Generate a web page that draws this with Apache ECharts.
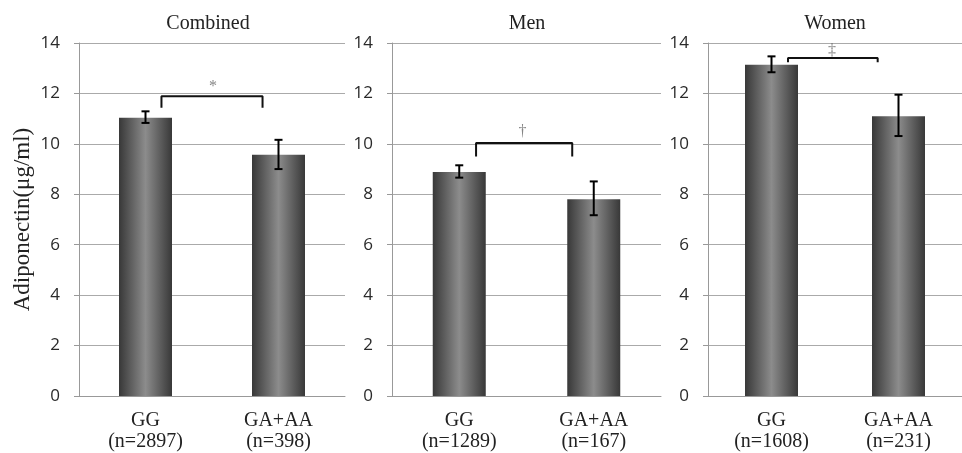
<!DOCTYPE html>
<html>
<head>
<meta charset="utf-8">
<script src="https://cdn.jsdelivr.net/npm/echarts@6/dist/echarts.min.js"></script>
<style>html,body{margin:0;padding:0;background:#fff;}#c{width:962px;height:453px;}</style>
</head>
<body>
<div id="c"></div>
<script>
// ---- data ----
var panelTitles = ['Combined', 'Men', 'Women'];
var catCombined = ['GG\n(n=2897)', 'GA+AA\n(n=398)'];
var catMen = ['GG\n(n=1289)', 'GA+AA\n(n=167)'];
var catWomen = ['GG\n(n=1608)', 'GA+AA\n(n=231)'];
var meanCombined = [11.04, 9.57];
var meanMen = [8.88, 7.80];
var meanWomen = [13.14, 11.09];
var errLowCombined = [10.83, 9.00];
var errHighCombined = [11.29, 10.16];
var errLowMen = [8.66, 7.17];
var errHighMen = [9.15, 8.51];
var errLowWomen = [12.84, 10.31];
var errHighWomen = [13.47, 11.95];
// bracket: [xLeft, xRight, yTop, yDrop]
var bracketCombined = [0.12, 0.88, 11.89, 11.43];
var bracketMen = [0.125, 0.84, 10.03, 9.50];
var bracketWomen = [0.13, 0.836, 13.41, 13.24];
// significance mark: [x, y, text]
var markCombined = [0.507, 12.28, '*'];
var markMen = [0.47, 10.47, '\u2020'];
var markWomen = [0.477, 13.70, '\u2021'];
var yTicks = [0, 2, 4, 6, 8, 10, 12, 14];

var cats = [catCombined, catMen, catWomen];
var means = [meanCombined, meanMen, meanWomen];
var lows = [errLowCombined, errLowMen, errLowWomen];
var highs = [errHighCombined, errHighMen, errHighWomen];
var brackets = [bracketCombined, bracketMen, bracketWomen];
var marks = [markCombined, markMen, markWomen];

var grids = [
  {left: 79, top: 43, width: 266, bottom: 57},
  {left: 392, top: 43, width: 269, bottom: 57},
  {left: 708, top: 43, width: 266, bottom: 57}
];
var titleX = [203, 522, 830];

var chart = echarts.init(document.getElementById('c'));
var serif = '"Liberation Serif", "DejaVu Serif", serif';
var xAxes = [], yAxes = [], series = [], titles = [];

for (var i = 0; i < 3; i++) {
  titles.push({
    text: panelTitles[i], left: titleX[i], top: 9, textAlign: 'center',
    textStyle: {fontFamily: serif, fontSize: 20, fontWeight: 'normal', color: '#222'}
  });
  xAxes.push({
    type: 'category', gridIndex: i, data: cats[i],
    axisLine: {lineStyle: {color: '#999', width: 1}},
    axisTick: {length: 5, lineStyle: {color: '#999'}},
    axisLabel: {fontFamily: serif, fontSize: 20, color: '#222', lineHeight: 21, margin: 14}
  });
  yAxes.push({
    type: 'value', gridIndex: i, min: yTicks[0], max: yTicks[yTicks.length - 1], interval: 2,
    name: i === 0 ? 'Adiponectin(\u03bcg/ml)' : '',
    nameLocation: 'middle', nameGap: 45, nameRotate: 90,
    nameTextStyle: {fontFamily: serif, fontSize: 23, color: '#222'},
    axisLine: {show: true, onZero: false, lineStyle: {color: '#999', width: 1}},
    axisTick: {show: true, length: 5, lineStyle: {color: '#999'}},
    axisLabel: {fontFamily: '"Open Sans", sans-serif', fontSize: 17, color: '#2a2a2a', margin: 19},
    splitLine: {lineStyle: {color: '#aaa', width: 1}}
  });
}
for (var i = 0; i < 3; i++) {
  xAxes.push({type: 'value', gridIndex: i, min: -0.5, max: 1.5, show: false,
    axisLine: {onZero: false}});
}

var barGrad = new echarts.graphic.LinearGradient(0, 0, 1, 0, [
  {offset: 0, color: '#383838'},
  {offset: 0.5, color: '#8c8c8c'},
  {offset: 1, color: '#383838'}
]);

for (var i = 0; i < 3; i++) {
  series.push({
    type: 'bar', xAxisIndex: i, yAxisIndex: i, data: means[i], barWidth: 53,
    itemStyle: {color: barGrad}, silent: true, z: 2
  });
  var ed = [];
  for (var k = 0; k < 2; k++) ed.push([k, lows[i][k], highs[i][k]]);
  series.push({
    type: 'custom', xAxisIndex: i, yAxisIndex: i, data: ed, z: 5, silent: true,
    renderItem: function (params, api) {
      var x = api.value(0);
      var lo = api.coord([x, api.value(1)]);
      var hi = api.coord([x, api.value(2)]);
      var w = 4;
      var st = {stroke: '#000', lineWidth: 2};
      return {type: 'group', children: [
        {type: 'line', shape: {x1: lo[0], y1: lo[1], x2: hi[0], y2: hi[1]}, style: st},
        {type: 'line', shape: {x1: lo[0] - w, y1: lo[1], x2: lo[0] + w, y2: lo[1]}, style: st},
        {type: 'line', shape: {x1: hi[0] - w, y1: hi[1], x2: hi[0] + w, y2: hi[1]}, style: st}
      ]};
    }
  });
  var b = brackets[i];
  series.push({
    type: 'line', xAxisIndex: 3 + i, yAxisIndex: i, silent: true, z: 6,
    data: [[b[0], b[3]], [b[0], b[2]], [b[1], b[2]], [b[1], b[3]]],
    showSymbol: false, symbol: 'none', lineStyle: {color: '#111', width: 2}
  });
  var m = marks[i];
  series.push({
    type: 'scatter', xAxisIndex: 3 + i, yAxisIndex: i, silent: true, z: 6,
    data: [[m[0], m[1]]], symbolSize: 0,
    label: {show: true, position: 'inside', formatter: m[2],
      fontFamily: serif, fontSize: 16, color: '#666'}
  });
}

chart.setOption({
  animation: false,
  backgroundColor: '#fff',
  title: titles,
  grid: grids,
  xAxis: xAxes,
  yAxis: yAxes,
  series: series
});
</script>
</body>
</html>
